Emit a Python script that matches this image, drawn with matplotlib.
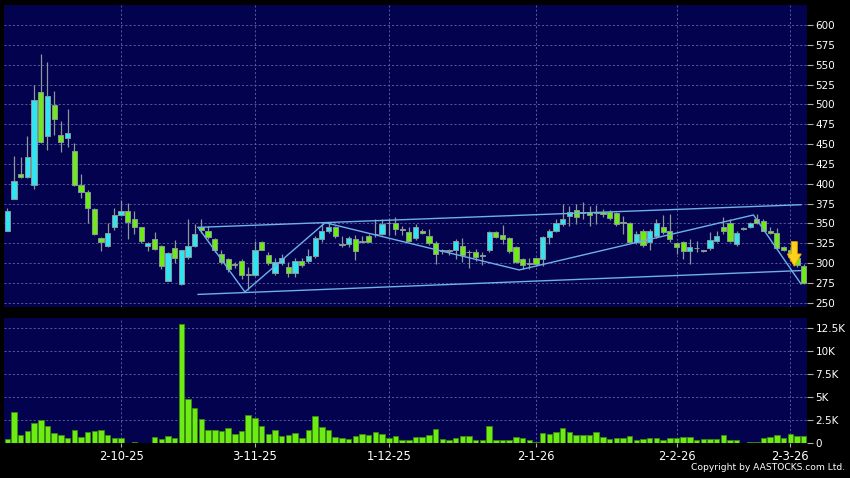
import matplotlib
matplotlib.use("Agg")
import matplotlib.pyplot as plt
import numpy as np

# daily candles (oldest first)
opens = [341, 381, 412, 408, 398, 515, 460, 499, 462, 458,
         441, 398, 390, 368, 332, 321, 346, 360, 365, 356,
         345, 321, 330, 322, 278, 319, 273, 308, 321, 346,
         341, 330, 312, 305, 299, 302, 286, 285, 326, 310,
         288, 300, 295, 288, 302, 302, 309, 330, 340, 345,
         323, 324, 330, 327, 334, 337, 337, 350, 351, 342,
         339, 331, 341, 334, 325, 316, 315, 316, 321, 314,
         314, 310, 316, 339, 335, 331, 320, 305, 299, 306,
         305, 333, 341, 349, 359, 367, 364, 364, 364, 364,
         364, 362.5, 351, 350, 326, 340, 326, 334, 346, 340,
         325, 326, 315, 319, 316, 319, 328, 345, 350, 324,
         344, 345, 355, 352.5, 341, 337.5, 320, 316, 307, 296]
highs = [370, 435, 434, 460, 525, 563, 554, 517, 479, 494,
         451, 412, 392, 369, 333, 351, 370, 380, 376, 365,
         346, 326, 339, 323, 314, 329, 317, 355, 349, 355,
         347, 332, 316, 307, 301, 305, 295, 328, 328, 314,
         306, 312, 301, 307, 307, 318, 334, 349, 352, 347,
         334, 334, 335, 334, 336, 356, 356, 356, 358, 347,
         345, 349, 343, 343, 328, 318, 318, 330, 331, 316,
         318, 314, 341, 341, 348, 333, 322, 306, 306, 306,
         334, 343, 355, 374, 372, 374, 377, 372, 373, 368,
         367, 364, 359.6, 352, 340, 343, 343, 355, 360, 362,
         326, 328, 330, 328, 317, 339, 341, 357.5, 355, 341,
         346, 352, 362, 356, 345, 344, 321, 318, 310, 299]
lows = [340, 381, 407, 407, 393, 451, 443, 462, 440, 446,
        397, 382, 350, 335, 315, 320, 342, 359, 330, 337,
        325, 315, 317, 293, 277, 300, 272, 305, 320, 338,
        330, 314, 299, 289, 294, 280, 266, 284, 316, 298,
        285, 297, 283, 283, 295, 300, 307, 326, 338, 331,
        320, 320, 304, 325, 326, 333, 335, 335, 335, 335,
        326, 329, 336, 323, 299, 312, 310, 305, 301, 294,
        303, 297, 314, 331, 324, 313, 300, 292, 293, 296,
        296, 324, 339, 347, 347, 349, 356, 347, 349, 358,
        354, 347, 336.6, 325, 324, 320, 317, 331, 337, 326,
        312, 305, 299, 314, 314, 317, 327, 337, 327, 322,
        342, 344, 349, 340, 336, 318, 315, 303, 295, 273]
closes = [365, 404, 408, 434, 506, 452, 510, 481, 453, 464,
          398, 389, 369, 336, 326, 338, 360, 365, 352, 345,
          328, 325, 318, 296, 313, 307, 316, 321, 336, 342,
          333, 316, 301, 292, 298, 285, 285, 317, 317, 300,
          301, 307, 288, 302, 297, 309, 332, 341, 345, 334,
          323, 331, 315, 327.5, 327, 336, 349, 350, 343, 342,
          327.5, 345, 338, 325, 312, 315.5, 315, 327.5, 310, 313.5,
          307.5, 309.5, 339, 332.5, 330, 315, 301, 298, 299, 299,
          332.5, 341, 351, 355, 364, 357.5, 363.5, 361, 363.5, 362,
          357, 349, 351, 326, 336, 323, 340, 350, 339, 330,
          320, 315, 320, 318.5, 315.5, 329, 334, 340, 328, 337.5,
          343.5, 350, 350, 341, 337.5, 319, 316, 308, 298, 275]
# volume in thousands
volumes = [0.47, 3.4, 0.9, 1.4, 2.2, 2.5, 1.9, 1.1, 0.9, 0.6,
           1.45, 0.7, 1.2, 1.35, 1.5, 0.9, 0.6, 0.6, 0.1, 0.15,
           0.1, 0.1, 0.65, 0.5, 0.8, 0.6, 12.9, 4.8, 3.8, 2.6,
           1.45, 1.5, 1.3, 1.7, 1.05, 1.3, 3.1, 2.8, 1.9, 1.0,
           1.45, 0.85, 0.95, 1.1, 0.55, 1.5, 3.0, 1.8, 1.45, 0.7,
           0.55, 0.47, 0.83, 1.0, 0.9, 1.23, 1.0, 0.55, 0.8, 0.43,
           0.43, 0.65, 0.65, 0.9, 1.56, 0.47, 0.36, 0.58, 0.8, 0.8,
           0.43, 0.43, 1.9, 0.43, 0.43, 0.43, 0.7, 0.58, 0.33, 0.15,
           1.16, 1.0, 1.23, 1.63, 1.2, 0.9, 0.9, 0.9, 1.23, 0.65,
           0.47, 0.58, 0.58, 0.83, 0.43, 0.47, 0.55, 0.62, 0.33, 0.58,
           0.58, 0.7, 0.7, 0.43, 0.47, 0.54, 0.54, 0.94, 0.4, 0.4,
           0.03, 0.2, 0.18, 0.58, 0.69, 0.9, 0.62, 1.0, 0.83, 0.83]

date_ticks = [17, 37, 57, 79, 100, 117]
date_labels = ["2-10-25", "3-11-25", "1-12-25", "2-1-26", "2-2-26", "2-3-26"]
price_ticks = list(range(250, 601, 25))
vol_ticks = [0, 2.5, 5, 7.5, 10, 12.5]
vol_labels = ["0", "2.5K", "5K", "7.5K", "10K", "12.5K"]

# drawn trend lines (bar index, price)
upper_x, upper_y = [28.5, 118.6], [345, 373.5]
lower_x, lower_y = [28.5, 118.6], [260.5, 290.5]
zig_x = [28.5, 35.5, 47.5, 76.5, 111.5, 118.6]
zig_y = [345, 263.6, 350.9, 291.3, 360.6, 273.7]
arrow_x, arrow_top, arrow_tip = 117.6, 327, 296

bg = "#03024f"
cyan = "#30e4f2"
lime = "#6cec12"
grey = "#8a9898"
gridc = "#6466a6"
linec = "#6fb0e8"

plt.rcParams['font.family'] = 'DejaVu Sans'
fig = plt.figure(figsize=(8.5, 4.78), dpi=100, facecolor="black")
ax = fig.add_axes([0.0047, 0.3577, 0.9447, 0.6318], facecolor=bg)
axv = fig.add_axes([0.0047, 0.0722, 0.9447, 0.2625], facecolor=bg)

o = np.array(opens, float)
h = np.array(highs, float)
l = np.array(lows, float)
c = np.array(closes, float)
x = np.arange(len(o))

ax.vlines(x, l, h, color=grey, linewidth=0.9, zorder=2)
body_colors = []
for oo, cc in zip(o, c):
    if abs(cc - oo) < 1.2:
        body_colors.append(grey)
    elif cc > oo:
        body_colors.append(cyan)
    else:
        body_colors.append(lime)
bottoms = np.minimum(o, c)
heights = np.maximum(np.abs(c - o), 0.9)
ax.bar(x, heights, bottom=bottoms, width=0.78, color=body_colors,
       edgecolor=grey, linewidth=0.7, zorder=3)

ax.plot(upper_x, upper_y, color=linec, linewidth=1.0, zorder=4)
ax.plot(lower_x, lower_y, color=linec, linewidth=1.0, zorder=4)
ax.plot(zig_x, zig_y, color=linec, linewidth=1.0, zorder=4)

# yellow down arrow
head = arrow_tip + (arrow_top - arrow_tip) * 0.5
ax.fill([arrow_x - 0.45, arrow_x + 0.45, arrow_x + 0.45, arrow_x + 1.05,
         arrow_x, arrow_x - 1.05, arrow_x - 0.45],
        [arrow_top, arrow_top, head, head, arrow_tip, head, head],
        color="#ffd21a", edgecolor="#e8a000", linewidth=0.6, zorder=6)

axv.bar(x, volumes, width=0.82, color=lime, edgecolor="#3a8a10",
        linewidth=0.6, zorder=3)

for a in (ax, axv):
    a.set_xlim(-0.5, len(o) - 0.5)
    for s in a.spines.values():
        s.set_visible(False)
    a.set_xticks(date_ticks)
    a.grid(True, color=gridc, linestyle=(0, (2.5, 2.5)), linewidth=0.6, zorder=0)
    a.set_axisbelow(True)
    a.yaxis.tick_right()
    a.tick_params(axis='y', colors="#b0b0b0", labelcolor="white",
                  length=4, width=0.8, direction='out', labelsize=7.5, pad=2)

ax.set_ylim(244.6, 625.2)
ax.set_yticks(price_ticks)
ax.tick_params(axis='x', length=0, labelbottom=False)

axv.set_ylim(0, 13.59)
axv.set_yticks(vol_ticks)
axv.set_yticklabels(vol_labels)
axv.set_xticklabels(date_labels)
axv.tick_params(axis='x', colors="#b0b0b0", labelcolor="white",
                length=3, width=0.8, labelsize=8.3, pad=2)

fig.text(0.994, 0.012, "Copyright by AASTOCKS.com Ltd.", color="white",
         fontsize=6.6, ha="right", va="bottom")

fig.savefig("out.png", dpi=100, facecolor=fig.get_facecolor())
